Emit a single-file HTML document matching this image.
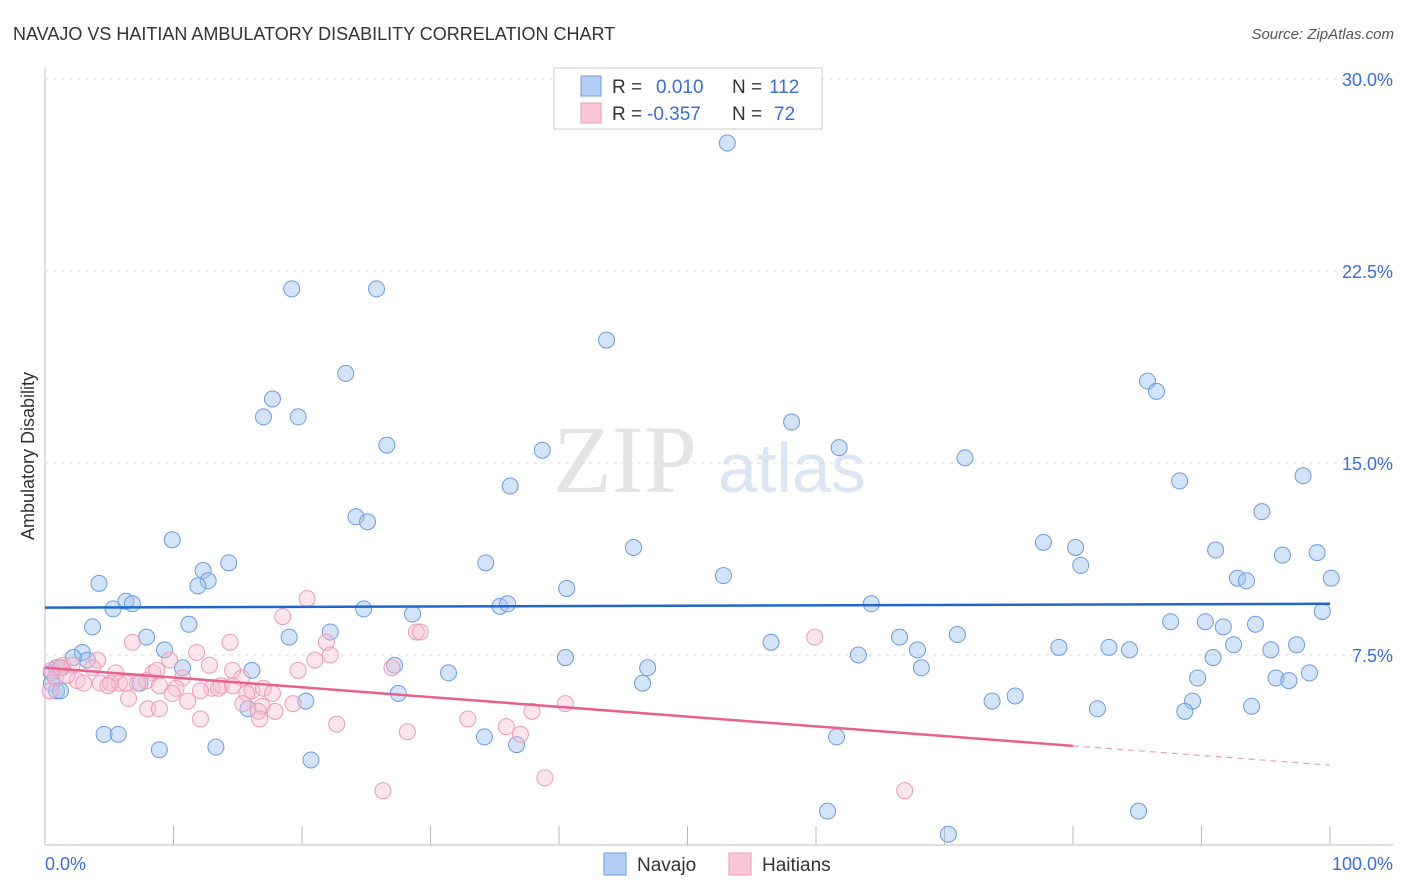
<!DOCTYPE html>
<html><head><meta charset="utf-8"><style>
body{margin:0;background:#fff;font-family:"Liberation Sans",sans-serif;}
svg{display:block}
</style></head><body>
<svg width="1406" height="892" xmlns="http://www.w3.org/2000/svg" id="chart">
<text x="13" y="40" font-size="18" fill="#333">NAVAJO VS HAITIAN AMBULATORY DISABILITY CORRELATION CHART</text>
<text x="1394" y="39" font-size="15" fill="#555" font-style="italic" text-anchor="end">Source: ZipAtlas.com</text>
<text transform="translate(34,456) rotate(-90)" font-size="18" fill="#333" text-anchor="middle">Ambulatory Disability</text>
<g>
<text x="553" y="492" font-size="96" font-family="Liberation Serif,serif" fill="#e4e4e4">ZIP</text>
<text x="718" y="492" font-size="70" fill="#dbe6f5">atlas</text>
</g>
<g id="grid"></g>
<g id="axes"></g>
<g id="pts"></g>
<g id="trend"></g>
<g>
<rect x="554" y="68" width="268" height="61" fill="#fff" stroke="#ccc"/>
<rect x="581" y="76" width="20" height="20" fill="#b6d0f4" stroke="#6a9be0"/>
<rect x="581" y="103" width="20" height="20" fill="#f9c8d8" stroke="#ee9ab6"/>
<text x="612" y="93" font-size="19" fill="#333">R = <tspan x="656" fill="#3b6fd4">0.010</tspan><tspan x="732" fill="#333">N = </tspan><tspan x="769" fill="#3b6fd4">112</tspan></text>
<text x="612" y="120" font-size="19" fill="#333">R = <tspan x="647" fill="#3b6fd4">-0.357</tspan><tspan x="732" fill="#333">N = </tspan><tspan x="774" fill="#3b6fd4">72</tspan></text>
</g>
<g>
<rect x="604" y="853" width="22" height="22" fill="#b6d0f4" stroke="#6a9be0"/>
<text x="637" y="871" font-size="19" fill="#333">Navajo</text>
<rect x="729" y="853" width="22" height="22" fill="#f9c8d8" stroke="#ee9ab6"/>
<text x="762" y="871" font-size="19" fill="#333">Haitians</text>
</g>
</svg>
<script>
const yTicks=[7.5,15,22.5,30];
const yTickLabels=["7.5%","15.0%","22.5%","30.0%"];
const xTicks=[0,10,20,30,40,50,60,70,80,90,100];
const xEndLabels=["0.0%","100.0%"];
const navajoX=[53.1,19.2,25.8,43.7,23.4,85.8,86.5,17.7,17.0,19.7,58.1,26.6,38.7,61.8,71.6,97.9,88.3,36.2,24.2,25.1,94.7,9.9,77.7,80.2,45.8,91.1,96.3,99.0,34.3,80.6,14.3,12.3,12.7,4.2,52.8,100.1,92.8,93.5,11.9,40.6,6.3,6.8,5.3,24.8,35.4,36.0,28.6,64.3,99.4,3.7,11.2,22.2,19.0,7.9,87.6,90.3,91.7,94.2,56.5,66.5,71.0,78.9,82.8,84.4,92.5,95.4,97.4,9.3,2.9,3.3,2.2,67.9,63.3,10.7,16.1,27.2,31.4,40.5,46.9,68.2,90.9,98.4,95.8,96.8,89.7,0.9,1.3,0.5,0.5,0.9,1.2,46.5,7.4,27.5,20.3,15.8,73.7,75.5,89.3,81.9,88.7,93.9,4.6,5.7,8.9,13.3,34.2,36.7,61.6,20.7,60.9,85.1,70.3];
const navajoY=[27.5,21.8,21.8,19.8,18.5,18.2,17.8,17.5,16.8,16.8,16.6,15.7,15.5,15.6,15.2,14.5,14.3,14.1,12.9,12.7,13.1,12.0,11.9,11.7,11.7,11.6,11.4,11.5,11.1,11.0,11.1,10.8,10.4,10.3,10.6,10.5,10.5,10.4,10.2,10.1,9.6,9.5,9.3,9.3,9.4,9.5,9.1,9.5,9.2,8.6,8.7,8.4,8.2,8.2,8.8,8.8,8.6,8.7,8.0,8.2,8.3,7.8,7.8,7.7,7.9,7.7,7.9,7.7,7.6,7.3,7.4,7.7,7.5,7.0,6.9,7.1,6.8,7.4,7.0,7.0,7.4,6.8,6.6,6.5,6.6,7.0,7.0,6.8,6.4,6.1,6.1,6.4,6.4,6.0,5.7,5.4,5.7,5.9,5.7,5.4,5.3,5.5,4.4,4.4,3.8,3.9,4.3,4.0,4.3,3.4,1.4,1.4,0.5];
const haitiX=[20.4,18.5,28.9,29.2,6.8,14.4,21.9,59.9,11.8,22.2,4.1,9.7,12.8,21.0,1.4,2.1,3.7,5.5,8.4,14.6,19.7,27.0,8.7,10.7,2.5,3.0,4.3,5.1,5.8,7.9,6.3,15.3,4.9,7.2,10.2,13.0,13.7,16.1,17.0,17.7,6.5,9.9,12.1,15.7,11.1,15.4,16.9,19.3,40.5,8.0,8.9,17.9,16.6,37.9,12.1,16.7,22.7,32.9,35.9,28.2,37.0,38.9,26.3,66.9,0.5,0.8,1.2,1.7,0.4,13.5,14.6,8.9];
const haitiY=[9.7,9.0,8.4,8.4,8.0,8.0,8.0,8.2,7.6,7.5,7.3,7.3,7.1,7.3,7.1,7.1,7.0,6.8,6.8,6.9,6.9,7.0,6.9,6.6,6.5,6.4,6.4,6.4,6.4,6.5,6.4,6.6,6.3,6.4,6.2,6.2,6.3,6.1,6.2,6.0,5.8,6.0,6.1,6.0,5.7,5.6,5.5,5.6,5.6,5.4,5.4,5.3,5.3,5.3,5.0,5.0,4.8,5.0,4.7,4.5,4.4,2.7,2.2,2.2,6.9,6.6,7.0,6.7,6.1,6.2,6.3,6.3];
const navajoTrendX=[0,100];
const navajoTrendY=[9.35,9.5];
const haitiTrendX=[0,80];
const haitiTrendY=[7.0,3.95];
const haitiDashX=[80,100];
const haitiDashY=[3.95,3.2];

const NS="http://www.w3.org/2000/svg";
const xs=v=>45+v*12.85;
const ys=v=>847-v*25.6;
function mk(tag,attrs,parent){const e=document.createElementNS(NS,tag);for(const k in attrs)e.setAttribute(k,attrs[k]);parent.appendChild(e);return e;}
const grid=document.getElementById('grid'),axes=document.getElementById('axes'),pts=document.getElementById('pts'),trend=document.getElementById('trend');
yTicks.forEach((t,i)=>{
  const l=mk('line',{x1:45,x2:1393,y1:ys(t),y2:ys(t),stroke:'#ddd','stroke-dasharray':'4,4'},grid);
  
  
  const tx=mk('text',{x:1393,y:ys(t)+7,'font-size':18,fill:'#3b6fd4','text-anchor':'end'},axes);
  tx.textContent=yTickLabels[i];
  
  
});
const la=mk('line',{x1:45,x2:45,y1:68,y2:845,stroke:'#bbb'},axes);


const lb=mk('line',{x1:45,x2:1393,y1:845,y2:845,stroke:'#bbb'},axes);


xTicks.forEach(t=>{
  const l=mk('line',{x1:xs(t),x2:xs(t),y1:826,y2:845,stroke:'#bbb'},axes);
  
  
});
const x0=mk('text',{x:45,y:870,'font-size':18,fill:'#3b6fd4'},axes);
x0.textContent=xEndLabels[0];


const x1=mk('text',{x:1393,y:870,'font-size':18,fill:'#3b6fd4','text-anchor':'end'},axes);
x1.textContent=xEndLabels[1];


navajoX.forEach((v,i)=>{
  const c=mk('circle',{cx:xs(v),cy:ys(navajoY[i]),r:8,fill:'rgba(160,196,240,0.45)',stroke:'#6a9be0','stroke-width':1},pts);
  
  
});
haitiX.forEach((v,i)=>{
  const c=mk('circle',{cx:xs(v),cy:ys(haitiY[i]),r:8,fill:'rgba(248,190,210,0.4)',stroke:'#ee9ab6','stroke-width':1},pts);
  
  
});
const t1=mk('line',{x1:xs(navajoTrendX[0]),y1:ys(navajoTrendY[0]),x2:xs(navajoTrendX[1]),y2:ys(navajoTrendY[1]),stroke:'#2266cc','stroke-width':2.5},trend);


const t2=mk('line',{x1:xs(haitiTrendX[0]),y1:ys(haitiTrendY[0]),x2:xs(haitiTrendX[1]),y2:ys(haitiTrendY[1]),stroke:'#e8608c','stroke-width':2.5},trend);


const t3=mk('line',{x1:xs(haitiDashX[0]),y1:ys(haitiDashY[0]),x2:xs(haitiDashX[1]),y2:ys(haitiDashY[1]),stroke:'#e8a0b8','stroke-width':1.2,'stroke-dasharray':'6,5'},trend);


</script>
</body></html>
